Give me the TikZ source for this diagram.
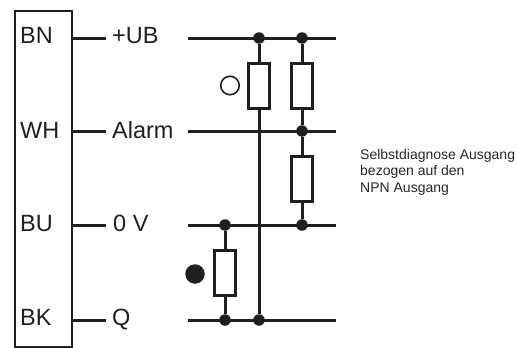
\documentclass[tikz,border=0pt]{standalone}
\usepackage{fontspec}
\setmainfont{Liberation Sans}
\begin{document}
\begin{tikzpicture}[x=1pt,y=-1pt,
  ink/.style={draw=black!88},
  wire/.style={ink,line width=3pt},
  res/.style={ink,line width=3pt,fill=white,minimum width=21pt,minimum height=45pt,inner sep=0pt,outer sep=0pt},
  junc/.style={circle,fill=black!88,minimum size=11.5pt,inner sep=0pt,outer sep=0pt},
  pin/.style={font=\fontsize{23.5}{26}\selectfont,text=black!88,inner sep=0pt,anchor=base west}]
\useasboundingbox (0,0) rectangle (517,348);
% housing
\node[ink,line width=2.8pt,minimum width=57pt,minimum height=336pt,inner sep=0pt,outer sep=0pt] (box) at (43.5,179) {};
% pin labels
\node[pin] (bn) at (20,43.5) {BN};
\node[pin] (wh) at (20,138) {WH};
\node[pin] (bu) at (20,231) {BU};
\node[pin] (bk) at (20,325.5) {BK};
% signal labels
\node[pin] (ub) at (112,43.5) {+UB};
\node[pin] (alarm) at (112,138) {Alarm};
\node[pin] (ov) at (113,231) {0 V};
\node[pin] (q) at (112,325.5) {Q};
% stub ends
\coordinate (s1) at (106,38);
\coordinate (s2) at (106,131);
\coordinate (s3) at (106,225);
\coordinate (s4) at (106,320);
\draw[wire] (box.east |- s1) -- (s1);
\draw[wire] (box.east |- s2) -- (s2);
\draw[wire] (box.east |- s3) -- (s3);
\draw[wire] (box.east |- s4) -- (s4);
% rail ends
\coordinate (a1) at (188,38);  \coordinate (a2) at (336,38);
\coordinate (b1) at (188,131); \coordinate (b2) at (336,131);
\coordinate (c1) at (188,225); \coordinate (c2) at (336,225);
\coordinate (d1) at (188,320); \coordinate (d2) at (336,320);
\draw[wire] (a1) -- (a2);
\draw[wire] (b1) -- (b2);
\draw[wire] (c1) -- (c2);
\draw[wire] (d1) -- (d2);
% junctions
\node[junc] (j1) at (259,38) {};
\node[junc] (j2) at (302,38) {};
\node[junc] (j3) at (302,131) {};
\node[junc] (j4) at (302,225) {};
\node[junc] (j5) at (225,225) {};
\node[junc] (j6) at (225,320) {};
\node[junc] (j7) at (259,320) {};
% resistors
\node[res] (r1) at (259,86) {};
\node[res] (r2) at (302,86) {};
\node[res] (r3) at (302,178.5) {};
\node[res] (r4) at (225,273) {};
\draw[wire] (j1) -- (r1);
\draw[wire] (r1) -- (j7);
\draw[wire] (j2) -- (r2);
\draw[wire] (r2) -- (j3);
\draw[wire] (j3) -- (r3);
\draw[wire] (r3) -- (j4);
\draw[wire] (j5) -- (r4);
\draw[wire] (r4) -- (j6);
% indicators
\node[circle,ink,line width=1.6pt,minimum size=18.5pt,inner sep=0pt] (off) at (230,85.5) {};
\node[circle,fill=black!88,minimum size=19.5pt,inner sep=0pt] (on) at (195,274) {};
% note
\node[anchor=north west,align=left,inner sep=0pt,text=black!85,font=\fontsize{14}{16.5}\selectfont] (note) at (360,149) {Selbstdiagnose Ausgang\\bezogen auf den\\NPN Ausgang};
\end{tikzpicture}
\end{document}
